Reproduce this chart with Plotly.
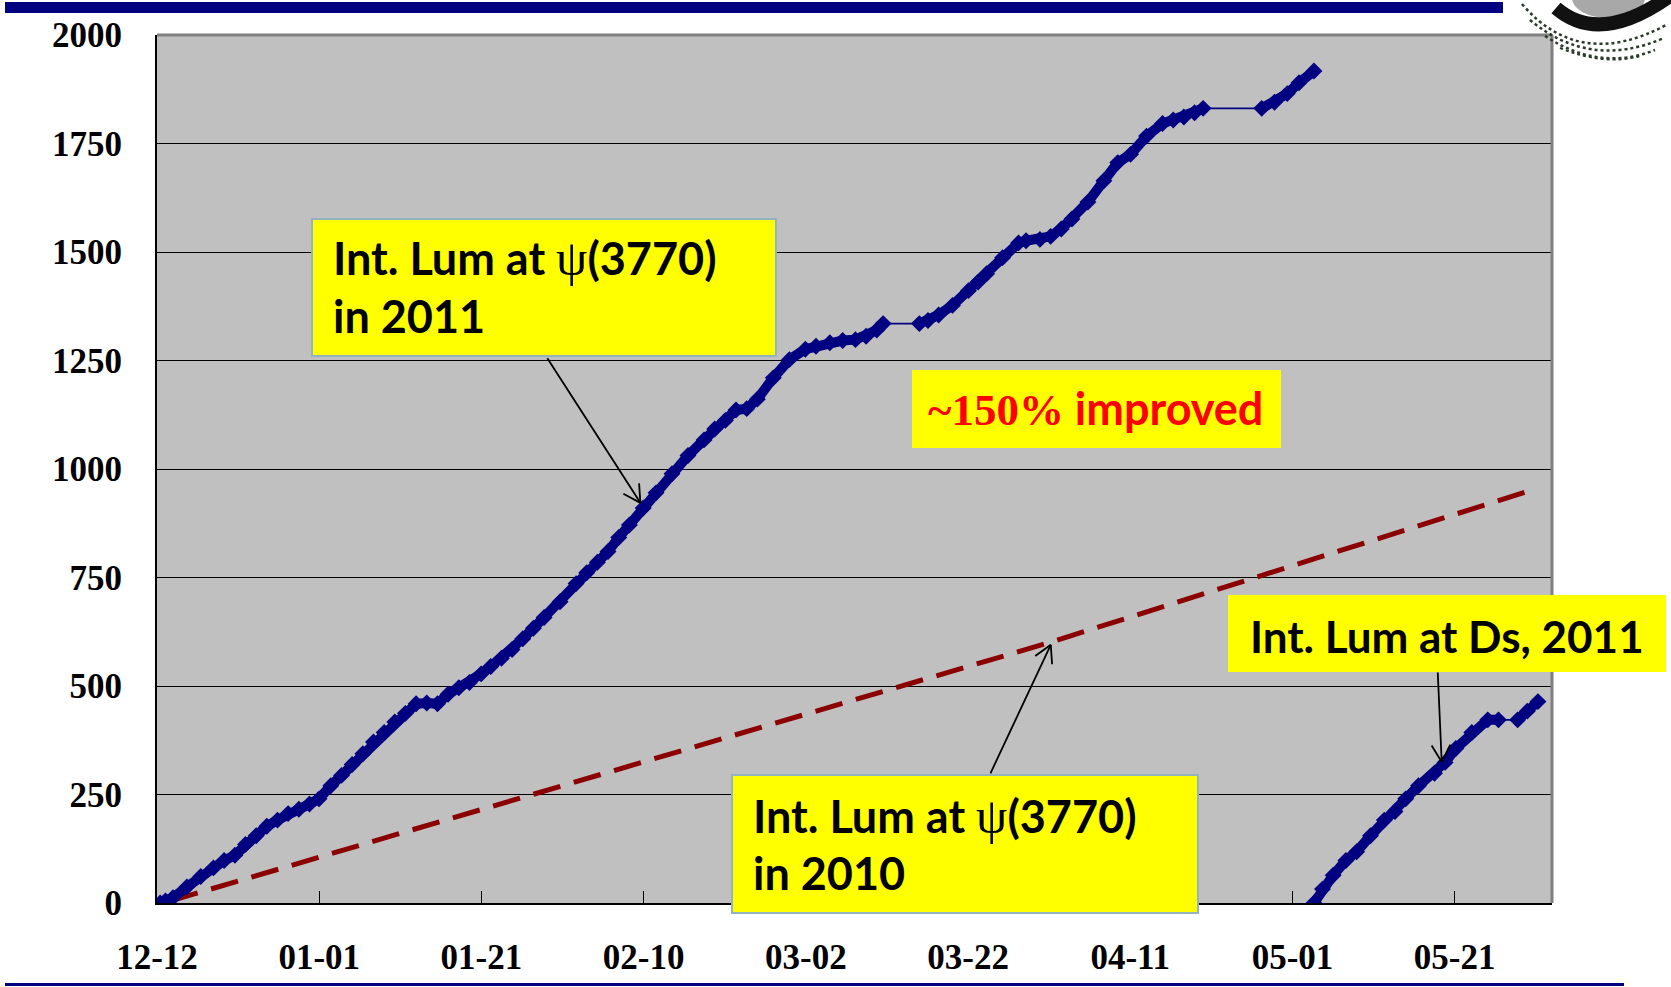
import math
import pandas as pd
import plotly.graph_objects as go

# ---- data: integrated luminosity (pb^-1) vs. days since 2010-12-12 ----
START = pd.Timestamp("2010-12-12")

psi2011_day = [0.39, 1.05, 1.97, 3.68, 5.39, 6.97, 8.28, 9.60, 10.91, 12.23, 13.54,
               14.86, 16.17, 17.49, 18.80, 19.98, 21.43, 22.75, 24.06, 25.38, 26.69,
               28.01, 29.32, 30.63, 31.95, 33.26, 34.58, 35.89, 37.21, 38.52, 39.97,
               41.15, 42.47, 43.78, 45.10, 46.41, 47.73, 49.70, 51.67, 52.98, 54.30,
               55.61, 56.93, 58.24, 59.95, 61.53, 63.50, 65.47, 67.45, 68.76, 70.08,
               71.39, 72.71, 74.02, 75.99, 77.97, 79.94, 81.25, 82.96, 84.54, 86.12,
               87.43, 88.75, 89.53,
               94.00, 95.06, 96.37, 98.08, 100.05, 101.24, 102.29, 104.26, 106.23,
               107.15, 108.86, 110.18, 111.49, 112.81, 114.78, 116.75, 118.46, 120.04,
               122.01, 123.98, 125.30, 126.61, 127.93, 128.98,
               136.21, 137.79, 139.36, 140.81, 142.65]
psi2011_lum = [0, 5, 12, 37, 61, 81, 98, 110, 135, 155, 177,
               191, 206, 216, 228, 240, 270, 294, 319, 344, 371,
               393, 417, 437, 459, 461, 459, 481, 496, 508, 528,
               545, 564, 584, 609, 633, 658, 694, 736, 761, 785,
               810, 842, 871, 910, 945, 989, 1031, 1067, 1092, 1112,
               1136, 1139, 1161, 1210, 1252, 1276, 1283, 1291, 1296, 1298,
               1306, 1320, 1335,
               1335, 1342, 1355, 1377, 1411, 1431, 1450, 1487, 1521,
               1526, 1529, 1536, 1553, 1576, 1615, 1664, 1706, 1725,
               1767, 1796, 1804, 1811, 1821, 1831,
               1831, 1845, 1865, 1890, 1917]

ds2011_day = [142.65, 143.70, 145.02, 146.59, 147.91, 149.62, 151.33, 152.64, 153.96,
              155.54, 157.51, 158.82, 160.14, 162.11, 164.08, 165.40,
              167.76, 168.95, 170.27]
ds2011_lum = [0, 32, 64, 98, 118, 155, 191, 211, 240,
              270, 299, 324, 356, 393, 422, 422,
              422, 442, 464]

psi2010_day = [1.7, 59.6, 110.2, 169.6]
psi2010_lum = [5, 324, 601, 952]

x_ticks_start = "2010-12-12"
x_range = ["2010-12-12", "2011-06-02"]

# ---- page geometry (pixels) ----
W, H = 1671, 987
PL, PR, PT, PB = 157, 1552, 35, 903

NAVY = "#000080"
YELLOW = "#FFFF00"


def fx(p):
    return (p - PL) / (PR - PL)


def fy(p):
    return (PB - p) / (PB - PT)


def to_dates(days):
    return [START + pd.Timedelta(days=d) for d in days]


def runs(days, lums, max_step=2.2):
    """Break the series where the beam was off (no data for a while)."""
    xs, ys = [], []
    for i, (d, v) in enumerate(zip(days, lums)):
        if i and d - days[i - 1] > max_step:
            xs.append(None)
            ys.append(None)
        xs.append(START + pd.Timedelta(days=d))
        ys.append(v)
    return xs, ys


fig = go.Figure()

# 2010 reference curve
fig.add_trace(go.Scatter(
    x=to_dates(psi2010_day), y=psi2010_lum, mode="lines",
    line=dict(color="#8B0000", width=5, dash="28px,14px"),
    hoverinfo="skip", showlegend=False))

for days, lums in [(psi2011_day, psi2011_lum), (ds2011_day, ds2011_lum)]:
    # thin connector across gaps
    fig.add_trace(go.Scatter(
        x=to_dates(days), y=lums, mode="lines",
        line=dict(color=NAVY, width=1.6),
        hoverinfo="skip", showlegend=False))
    # thick band of daily points
    bx, by = runs(days, lums)
    fig.add_trace(go.Scatter(
        x=bx, y=by, mode="lines+markers",
        line=dict(color=NAVY, width=10),
        marker=dict(symbol="diamond", size=13, color=NAVY),
        connectgaps=False, hoverinfo="skip", showlegend=False))

shapes = []
annotations = []

# top and right frame of the plot area
shapes.append(dict(type="line", xref="paper", yref="paper", x0=0, x1=1, y0=1, y1=1,
                   line=dict(color="#808080", width=3), layer="above"))
shapes.append(dict(type="line", xref="paper", yref="paper", x0=1, x1=1, y0=0, y1=1,
                   line=dict(color="#808080", width=3), layer="above"))

# slide decorations: navy bars at top and bottom
shapes.append(dict(type="rect", xref="paper", yref="paper",
                   x0=fx(5), x1=fx(1503), y0=fy(13), y1=fy(2),
                   fillcolor=NAVY, line=dict(width=0), layer="above"))
shapes.append(dict(type="rect", xref="paper", yref="paper",
                   x0=fx(5), x1=fx(1624), y0=fy(986), y1=fy(983),
                   fillcolor=NAVY, line=dict(width=0), layer="above"))

# logo in the top-right corner
shapes.append(dict(type="circle", xref="paper", yref="paper",
                   x0=fx(1572), x1=fx(1645), y0=fy(18), y1=fy(-22),
                   fillcolor="#A8A8A8", line=dict(width=0), layer="above"))


def qpath(p0, c, p1):
    return "M {},{} Q {},{} {},{}".format(fx(p0[0]), fy(p0[1]), fx(c[0]), fy(c[1]),
                                         fx(p1[0]), fy(p1[1]))


shapes.append(dict(type="path", xref="paper", yref="paper",
                   path=qpath((1556, 8), (1600, 46), (1670, -4)),
                   line=dict(color="#111111", width=14), layer="above"))
for p0, c, p1, w in [((1522, 4), (1580, 72), (1668, 24), 2.5),
                     ((1530, 20), (1590, 70), (1664, 38), 2.5),
                     ((1545, 36), (1600, 72), (1655, 50), 2.5),
                     ((1560, 48), (1605, 66), (1640, 56), 2)]:
    shapes.append(dict(type="path", xref="paper", yref="paper", path=qpath(p0, c, p1),
                       line=dict(color="#2a3a2a", width=w, dash="dot"), layer="above"))

# callout boxes
boxes = [
    ((312, 219, 776, 356), "#93B3C0"),
    ((912, 370, 1281, 448), None),
    ((732, 775, 1198, 913), "#93B3C0"),
    ((1228, 595, 1666, 672), None),
]
for (x0, y0, x1, y1), border in boxes:
    shapes.append(dict(type="rect", xref="paper", yref="paper",
                       x0=fx(x0), x1=fx(x1), y0=fy(y1), y1=fy(y0),
                       fillcolor=YELLOW,
                       line=dict(color=border or YELLOW, width=2 if border else 0),
                       layer="above"))

PSI = ("<span style=\"font-family:'Liberation Serif';font-weight:normal;"
       "font-size:50px\">ψ</span>")
SANS = "Lato, 'Open Sans', sans-serif"


def label(text, x, ycap, anchor="left", color="black", size=45):
    annotations.append(dict(
        text=text, xref="paper", yref="paper", x=fx(x), y=fy(ycap),
        xanchor=anchor, yanchor="middle", showarrow=False,
        font=dict(family=SANS, size=size, color=color, weight="bold")))


label("Int. Lum at " + PSI + "(3770)", 331, 258)
label("in 2011", 331, 316)
label("Int. Lum at " + PSI + "(3770)", 751, 816)
label("in 2010", 751, 873)
label("Int. Lum at Ds, 2011", 1248, 636, size=44)
label("<span style=\"font-family:'Liberation Serif'\">~150%</span> improved",
      1095, 408, anchor="center", color="#FF0000", size=45)


# arrows with open V heads: tip in data coordinates, tail offset in pixels
def arrow(day, lum, ax, ay, head=21, spread=math.radians(29)):
    tip = START + pd.Timedelta(days=day)
    base = dict(x=tip, y=lum, xref="x", yref="y", text="", showarrow=True,
                arrowhead=0, arrowwidth=1.8, arrowcolor="black",
                axref="pixel", ayref="pixel", standoff=0, startstandoff=0)
    annotations.append(dict(base, ax=ax, ay=ay))
    n = math.hypot(ax, ay)
    ux, uy = ax / n, ay / n
    for s in (spread, -spread):
        vx = ux * math.cos(s) - uy * math.sin(s)
        vy = ux * math.sin(s) + uy * math.cos(s)
        annotations.append(dict(base, ax=vx * head, ay=vy * head))


arrow(59.6, 922, -94, -146)
arrow(110.2, 595, -61, 130)
arrow(158.4, 325, -4, -91)

tick_font = dict(family="'Liberation Serif', 'Times New Roman', serif", size=35,
                 color="black", weight="bold")

fig.update_layout(
    width=W, height=H,
    margin=dict(l=PL, r=W - PR, t=PT, b=H - PB, pad=0, autoexpand=False),
    paper_bgcolor="white", plot_bgcolor="#C0C0C0",
    showlegend=False,
    shapes=shapes, annotations=annotations,
    xaxis=dict(
        type="date", range=x_range, tick0=x_ticks_start, dtick=20 * 86400000,
        tickformat="%m-%d", showgrid=False, zeroline=False, automargin=False,
        showline=True, linecolor="black", linewidth=2,
        ticks="inside", ticklen=12, tickwidth=1, tickcolor="black",
        tickfont=tick_font, ticklabelstandoff=22),
    yaxis=dict(
        range=[0, 2000], tick0=0, dtick=250, showgrid=True, automargin=False,
        gridcolor="black", gridwidth=1, zeroline=False,
        showline=True, linecolor="black", linewidth=2,
        ticks="", tickfont=tick_font, ticklabelstandoff=26),
)

fig.write_html("out.html")
